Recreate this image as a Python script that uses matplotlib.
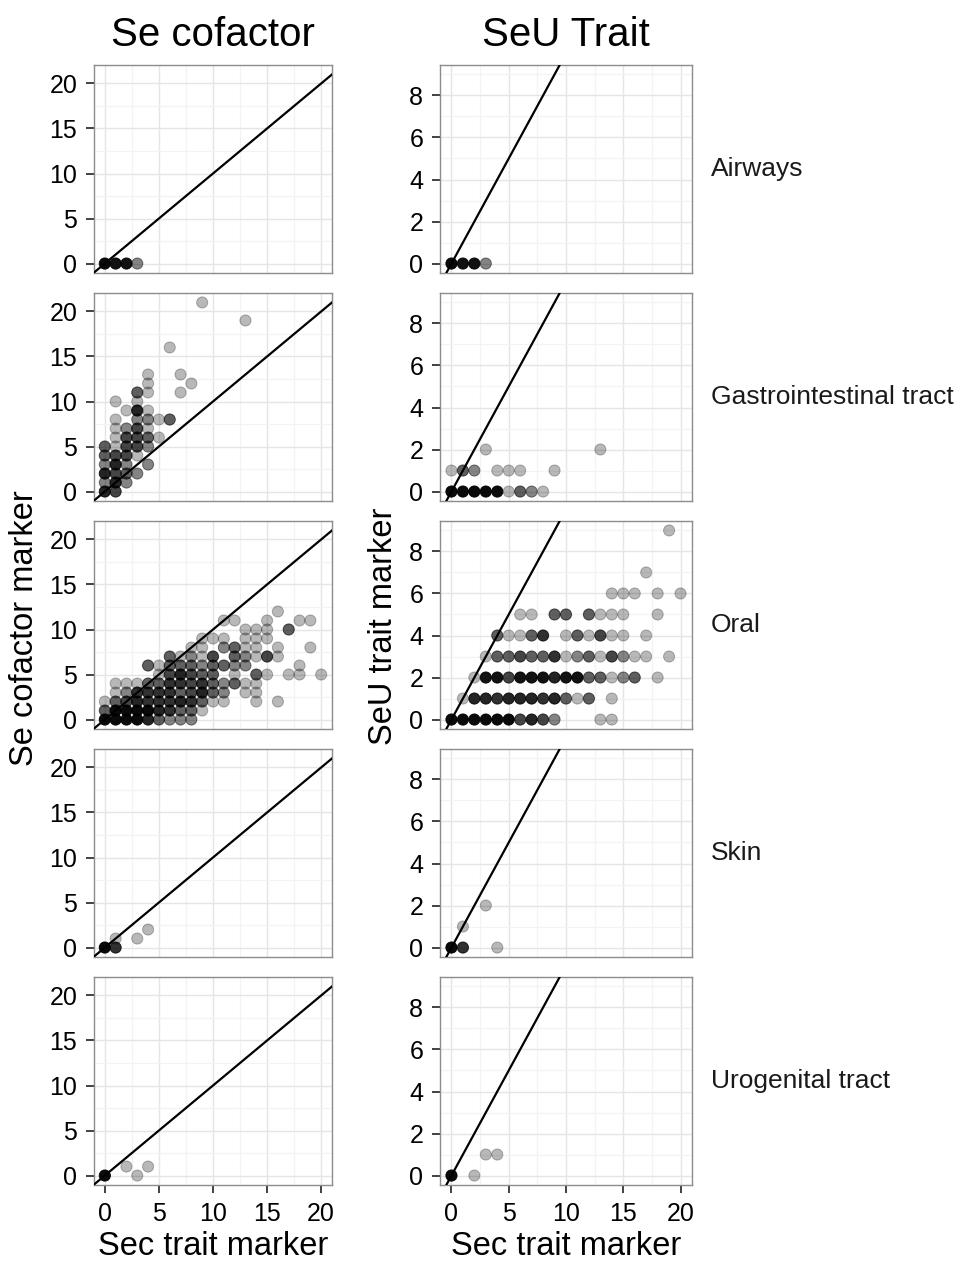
import matplotlib
matplotlib.use("Agg")
import matplotlib.pyplot as plt
import numpy as np

plt.rcParams['font.family'] = ['Liberation Sans', 'DejaVu Sans']

# ---- data: (x, y, number of overlapping observations) ----
sites = ["Airways", "Gastrointestinal tract", "Oral", "Skin", "Urogenital tract"]
col_titles = ["Se cofactor", "SeU Trait"]

air_cof_x = [0, 1, 2, 3]
air_cof_y = [0, 0, 0, 0]
air_cof_n = [10, 8, 8, 2]
air_seu_x = [0, 1, 2, 3]
air_seu_y = [0, 0, 0, 0]
air_seu_n = [10, 8, 8, 2]

gi_cof_x = [9, 13, 6, 4, 4, 4, 7, 8, 7, 3,
            1, 3, 2, 3, 4,
            1, 3, 4, 5, 6,
            1, 2, 3, 4,
            1, 2, 3, 4, 5,
            0, 1, 2, 3, 4,
            0, 1, 2, 3,
            0, 1, 2, 4,
            0, 1, 2, 3,
            0, 1, 2,
            0, 1]
gi_cof_y = [21, 19, 16, 13, 12, 11, 13, 12, 11, 11,
            10, 10, 9, 9, 9,
            8, 8, 8, 8, 8,
            7, 7, 7, 7,
            6, 6, 6, 6, 6,
            5, 5, 5, 5, 5,
            4, 4, 4, 4,
            3, 3, 3, 3,
            2, 2, 2, 2,
            1, 1, 1,
            0, 0]
gi_cof_n = [1, 1, 1, 1, 1, 1, 1, 1, 1, 3,
            1, 1, 1, 6, 1,
            1, 2, 2, 1, 3,
            1, 2, 4, 1,
            1, 4, 4, 3, 1,
            3, 1, 4, 4, 2,
            3, 4, 4, 1,
            2, 6, 2, 2,
            6, 4, 3, 2,
            2, 6, 2,
            6, 4]

gi_seu_x = [0, 1, 2, 3, 4, 5, 6, 7, 8, 0, 1, 2, 4, 5, 6, 9, 3, 13]
gi_seu_y = [0, 0, 0, 0, 0, 0, 0, 0, 0, 1, 1, 1, 1, 1, 1, 1, 2, 2]
gi_seu_n = [10, 10, 10, 10, 10, 1, 3, 2, 1, 1, 3, 2, 1, 1, 1, 1, 1, 1]

oral_cof_x = [0, 1, 2, 3, 4, 5, 6, 7, 8,
              0, 1, 2, 3, 4, 5, 6, 7, 8, 9,
              0, 1, 2, 3, 4, 5, 6, 7, 8, 9, 10, 11, 14, 16,
              1, 2, 3, 4, 5, 6, 7, 8, 9, 10, 11, 13, 14,
              1, 2, 3, 4, 5, 6, 7, 8, 9, 10, 11, 12, 13, 14,
              5, 6, 7, 8, 9, 10, 12, 14, 15, 17, 18, 20,
              4, 5, 6, 7, 8, 9, 10, 11, 12, 13, 18,
              6, 7, 8, 9, 10, 12, 13, 14, 15, 16,
              8, 9, 11, 12, 13, 14, 16, 19,
              9, 10, 11, 13, 14, 15,
              13, 14, 15, 17,
              11, 12, 15, 18, 19,
              16]
oral_cof_y = [0] * 9 + [1] * 10 + [2] * 14 + [3] * 13 + [4] * 14 + [5] * 12 + \
             [6] * 11 + [7] * 10 + [8] * 8 + [9] * 6 + [10] * 4 + [11] * 5 + [12]
oral_cof_n = [10, 10, 10, 10, 6, 3, 2, 2, 2,
              3, 10, 10, 10, 10, 6, 5, 3, 3, 1,
              1, 3, 4, 6, 5, 5, 5, 6, 5, 3, 1, 1, 1, 1,
              1, 2, 5, 5, 5, 5, 3, 4, 6, 3, 2, 1, 1,
              1, 1, 1, 3, 3, 5, 5, 4, 5, 3, 2, 3, 1, 1,
              1, 4, 6, 4, 3, 3, 1, 3, 1, 1, 1, 1,
              3, 1, 3, 3, 3, 2, 3, 3, 2, 2, 1,
              3, 1, 2, 1, 4, 3, 2, 1, 4, 1,
              1, 1, 2, 3, 1, 1, 1, 1,
              1, 1, 1, 1, 1, 1,
              1, 1, 1, 3,
              1, 1, 1, 1, 1,
              1]

oral_seu_x = [0, 1, 2, 3, 4, 5, 6, 7, 8, 9, 13, 14,
              1, 2, 3, 4, 5, 6, 7, 8, 9, 10, 11, 12, 14,
              2, 3, 4, 5, 6, 7, 8, 9, 10, 11, 12, 13, 14, 15, 16, 18,
              3, 4, 5, 6, 7, 8, 9, 10, 11, 12, 13, 14, 15, 16, 17, 19,
              4, 5, 6, 7, 8, 10, 11, 12, 13, 14, 15, 17,
              6, 7, 9, 10, 12, 13, 14, 15, 18,
              14, 15, 16, 18, 20,
              17,
              19]
oral_seu_y = [0] * 12 + [1] * 13 + [2] * 16 + [3] * 16 + [4] * 12 + [5] * 9 + \
             [6] * 5 + [7] + [9]
oral_seu_n = [10, 10, 10, 10, 10, 10, 4, 6, 4, 2, 1, 1,
              1, 6, 6, 5, 6, 6, 6, 5, 6, 3, 1, 3, 1,
              1, 8, 8, 4, 8, 8, 8, 6, 8, 8, 3, 3, 1, 2, 3, 1,
              1, 3, 3, 4, 3, 3, 5, 1, 2, 3, 1, 4, 2, 1, 1, 1,
              3, 1, 1, 3, 5, 1, 3, 1, 4, 1, 1, 1,
              1, 1, 3, 3, 3, 1, 1, 1, 1,
              1, 1, 1, 1, 1,
              1,
              1]

skin_cof_x = [0, 1, 1, 3, 4]
skin_cof_y = [0, 0, 1, 1, 2]
skin_cof_n = [10, 5, 1, 1, 1]
skin_seu_x = [0, 1, 1, 3, 4]
skin_seu_y = [0, 0, 1, 2, 0]
skin_seu_n = [10, 5, 1, 1, 1]

uro_cof_x = [0, 2, 3, 4]
uro_cof_y = [0, 1, 0, 1]
uro_cof_n = [10, 1, 1, 1]
uro_seu_x = [0, 2, 3, 4]
uro_seu_y = [0, 0, 1, 1]
uro_seu_n = [10, 1, 1, 1]

panels = [
    [(air_cof_x, air_cof_y, air_cof_n), (air_seu_x, air_seu_y, air_seu_n)],
    [(gi_cof_x, gi_cof_y, gi_cof_n), (gi_seu_x, gi_seu_y, gi_seu_n)],
    [(oral_cof_x, oral_cof_y, oral_cof_n), (oral_seu_x, oral_seu_y, oral_seu_n)],
    [(skin_cof_x, skin_cof_y, skin_cof_n), (skin_seu_x, skin_seu_y, skin_seu_n)],
    [(uro_cof_x, uro_cof_y, uro_cof_n), (uro_seu_x, uro_seu_y, uro_seu_n)],
]

x_ticks = [0, 5, 10, 15, 20]
y_ticks = [[0, 5, 10, 15, 20], [0, 2, 4, 6, 8]]
y_minor = [[2.5, 7.5, 12.5, 17.5], [1, 3, 5, 7, 9]]
y_lims = [(-1.05, 22.05), (-0.45, 9.45)]
x_lim = (-1, 21)

alpha = 0.28

# ---- layout (pixels) ----
W, H = 963, 1263
fig = plt.figure(figsize=(W / 100, H / 100), dpi=100)
col_left = [94, 440]
col_width = [238, 252]
row_top0 = 65
row_h = 208
row_step = 228


def stack_alpha(n):
    return 1 - (1 - alpha) ** np.asarray(n, dtype=float)


for r in range(5):
    for c in range(2):
        top = row_top0 + r * row_step
        ax = fig.add_axes([col_left[c] / W, 1 - (top + row_h) / H,
                           col_width[c] / W, row_h / H])
        x, y, n = panels[r][c]
        a = stack_alpha(n)
        cols = np.zeros((len(x), 4))
        cols[:, 3] = a
        ax.scatter(x, y, s=64, c=cols, edgecolors=cols, linewidths=0.7, zorder=3)
        ax.plot([-5, 30], [-5, 30], color='black', lw=1.6, zorder=4)

        ax.set_xlim(*x_lim)
        ax.set_ylim(*y_lims[c])
        ax.set_xticks(x_ticks)
        ax.set_xticks([2.5, 7.5, 12.5, 17.5], minor=True)
        ax.set_yticks(y_ticks[c])
        ax.set_yticks(y_minor[c], minor=True)
        ax.grid(which='major', color='#e5e5e5', lw=1.0, zorder=0)
        ax.grid(which='minor', color='#f3f3f3', lw=0.9, zorder=0)
        ax.set_axisbelow(True)
        for s in ax.spines.values():
            s.set_color('#8c8c8c')
            s.set_linewidth(1.0)
        ax.tick_params(which='major', direction='out', length=5.5, width=1.3,
                       color='#333333', labelsize=18, pad=6.5, labelcolor='black')
        ax.tick_params(which='minor', length=0)
        if r < 4:
            ax.tick_params(axis='x', which='major', length=0, labelbottom=False)
        if c == 1:
            ax.text(1.075, 0.5, sites[r], transform=ax.transAxes, fontsize=19,
                    color='#1a1a1a', va='center', ha='left')
        if r == 0:
            ax.set_title(col_titles[c], fontsize=29, pad=14)
        if r == 4:
            ax.set_xlabel("Sec trait marker", fontsize=23.5, labelpad=4)

fig.text(25 / W, 1 - 628 / H, "Se cofactor marker", rotation=90, fontsize=23.5,
         ha='center', va='center')
fig.text(383 / W, 1 - 626 / H, "SeU trait marker", rotation=90, fontsize=23.5,
         ha='center', va='center')

fig.savefig("out.png", dpi=100)
